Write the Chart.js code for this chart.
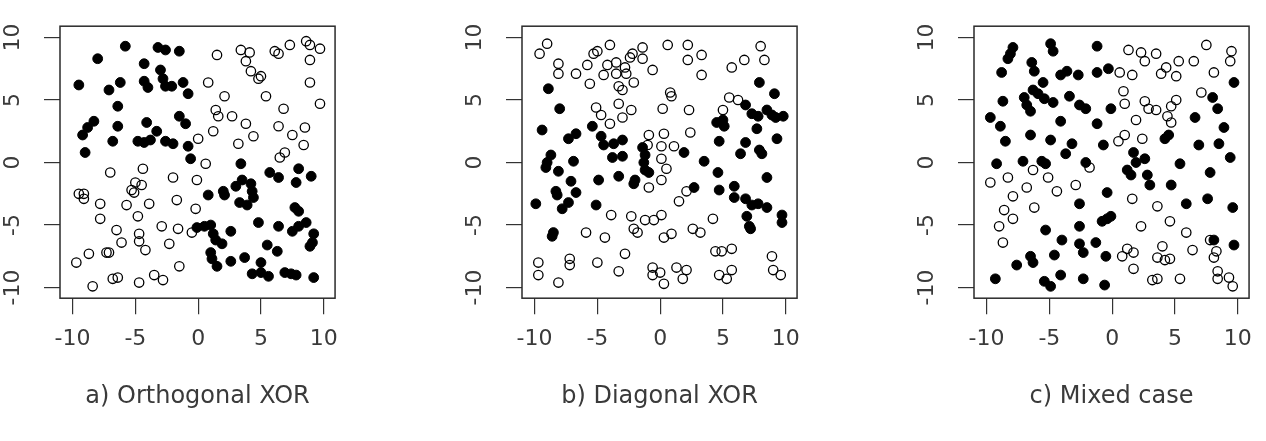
<!DOCTYPE html>
<html>
<head>
<meta charset="utf-8">
<script src="https://cdn.jsdelivr.net/npm/chart.js@4.4.1/dist/chart.umd.min.js"></script>
<style>
    html, body { margin: 0; padding: 0; background: #fff; overflow: hidden; }
    #wrap { position: relative; width: 1266px; height: 441px; }
    canvas { position: absolute; top: 0; }
</style>
</head>
<body>
<div id="wrap">
    <canvas id="chartA" width="350" height="441" style="left:0px"></canvas>
    <canvas id="chartB" width="350" height="441" style="left:462px"></canvas>
    <canvas id="chartC" width="350" height="441" style="left:914px"></canvas>
</div>
<script>
// --- DỮ LIỆU ---
const tickValues = [-10, -5, 0, 5, 10];
const panelTitles = ['a) Orthogonal XOR', 'b) Diagonal XOR', 'c) Mixed case'];

const orthoFilled = [
    [-9.5,6.2],[-8.0,8.3],[-5.8,9.3],[-7.1,5.8],[-6.2,6.4],[-6.4,4.5],[-4.3,7.9],[-4.3,6.5],[-4.0,6.0],[-3.2,9.2],
    [-2.6,9.0],[-1.5,8.9],[-3.0,7.4],[-2.8,6.7],[-2.6,6.1],[-2.1,6.1],[-1.2,6.4],[-0.8,5.5],[-8.3,3.3],[-8.8,2.8],
    [-9.2,2.2],[-6.8,1.7],[-6.4,2.9],[-4.1,3.2],[-4.8,1.7],[-4.3,1.6],[-3.8,1.8],[-3.3,2.5],[-2.6,1.7],[-2.0,1.5],
    [-1.5,3.7],[-1.0,3.1],[-0.8,1.3],[-9.0,0.8],[-0.6,0.3],[3.4,-0.1],[5.7,-0.8],[6.4,-1.2],[8.0,-0.5],[9.0,-1.1],
    [7.8,-1.6],[3.0,-1.9],[3.5,-1.4],[4.2,-1.7],[4.3,-2.3],[4.4,-2.8],[3.9,-3.4],[3.3,-3.2],[2.0,-2.3],[2.1,-2.6],
    [0.8,-2.6],[7.7,-3.6],[8.0,-3.9],[4.8,-4.8],[6.4,-5.1],[7.5,-5.5],[8.0,-5.1],[8.6,-4.8],[9.2,-5.7],[9.1,-6.4],
    [8.9,-6.7],[-0.1,-5.2],[0.5,-5.1],[1.0,-5.0],[1.2,-5.7],[1.4,-6.2],[1.9,-6.5],[1.0,-7.2],[1.1,-7.7],[1.5,-8.3],
    [2.6,-5.5],[2.6,-7.9],[3.7,-7.6],[5.5,-6.6],[6.3,-7.1],[5.0,-8.0],[4.3,-8.9],[5.0,-8.8],[5.6,-9.1],[6.9,-8.8],
    [7.4,-8.9],[7.8,-9.0],[9.2,-9.2]
];
const orthoOpen = [
    [1.5,8.6],[3.4,9.0],[4.1,8.8],[3.8,8.1],[4.2,7.3],[4.8,6.7],[5.0,6.9],[6.1,8.9],[6.4,8.7],[7.3,9.4],
    [8.6,9.7],[8.9,9.4],[9.7,9.1],[8.9,8.2],[8.9,6.4],[9.7,4.7],[0.8,6.4],[2.1,5.3],[1.4,4.2],[1.6,3.7],
    [2.7,3.7],[3.8,3.1],[5.4,5.3],[6.8,4.3],[4.4,2.1],[3.2,1.5],[1.2,2.5],[0.0,1.9],[6.4,2.9],[7.5,2.2],
    [8.5,2.8],[8.4,1.4],[6.9,0.8],[6.5,0.4],[0.6,-0.1],[-7.0,-0.8],[-4.4,-0.5],[-2.0,-1.2],[-0.1,-1.4],[-5.0,-1.6],
    [-4.5,-1.8],[-5.3,-2.2],[-5.1,-2.4],[-9.5,-2.5],[-9.1,-2.5],[-9.1,-2.9],[-7.8,-3.3],[-5.7,-3.4],[-3.9,-3.3],[-4.8,-4.3],
    [-1.7,-3.0],[-0.2,-3.7],[-7.8,-4.5],[-6.5,-5.4],[-2.9,-5.1],[-1.6,-5.3],[-0.5,-5.6],[-4.7,-5.7],[-4.7,-6.3],[-6.1,-6.4],
    [-4.2,-7.0],[-2.3,-6.5],[-8.7,-7.3],[-7.3,-7.2],[-7.1,-7.2],[-9.7,-8.0],[-1.5,-8.3],[-6.8,-9.3],[-6.4,-9.2],[-3.5,-9.0],
    [-2.8,-9.4],[-4.7,-9.6],[-8.4,-9.9]
];

const diagFilled = [
    [-8.9,5.9],[-8.0,4.3],[-9.4,2.6],[-7.3,1.9],[-6.7,2.3],[-5.4,2.9],[-4.7,2.1],[-4.5,1.4],[-3.7,1.5],[-3.0,1.8],
    [-3.8,0.4],[-3.0,0.5],[-1.4,1.2],[-1.2,0.6],[-8.7,0.6],[-9.0,0.0],[-6.9,0.1],[1.9,0.8],[4.7,1.7],[5.0,3.4],
    [4.5,3.2],[5.1,2.9],[6.8,1.6],[6.4,0.7],[7.7,2.7],[7.9,1.0],[8.1,0.7],[9.3,1.9],[7.9,6.4],[9.1,5.5],
    [6.8,4.6],[7.3,3.9],[7.8,3.7],[8.5,4.2],[8.9,3.8],[9.2,3.6],[9.8,3.7],[3.5,0.1],[-9.1,-0.4],[-8.1,-0.7],
    [-9.9,-3.3],[-8.3,-2.3],[-8.2,-2.6],[-7.1,-1.5],[-6.7,-2.4],[-7.3,-3.2],[-7.8,-3.7],[-8.6,-5.9],[-8.5,-5.6],[-5.1,-3.4],
    [-4.9,-1.4],[-3.3,-1.1],[-2.0,-1.4],[-2.1,-1.7],[-1.3,0.0],[-1.2,-0.6],[-0.9,-0.8],[4.6,-0.8],[2.7,-2.0],[4.7,-2.2],
    [5.9,-1.9],[5.9,-2.8],[6.8,-2.9],[7.3,-3.4],[6.9,-4.3],[7.2,-5.3],[7.1,-5.1],[7.8,-3.3],[8.5,-3.6],[8.5,-1.2],
    [9.7,-4.2],[9.7,-4.8]
];
const diagOpen = [
    [-9.6,8.7],[-9.0,9.5],[-8.1,7.9],[-8.1,7.1],[-6.7,7.1],[-5.8,7.8],[-5.3,8.7],[-5.0,8.9],[-5.6,6.3],[-4.5,7.0],
    [-4.2,7.8],[-4.0,9.4],[-3.5,8.0],[-3.5,7.1],[-2.8,7.6],[-2.7,7.1],[-3.3,6.1],[-3.0,5.8],[-2.1,6.4],[-2.4,8.4],
    [-2.2,8.7],[-1.4,9.2],[-1.4,8.3],[-0.6,7.4],[0.6,9.4],[2.2,9.4],[2.2,8.2],[3.3,8.6],[3.3,7.0],[5.7,7.6],
    [6.7,8.2],[8.0,9.3],[8.3,8.2],[0.8,5.6],[0.9,5.3],[0.2,4.3],[2.3,4.2],[2.4,2.4],[-5.1,4.4],[-4.7,3.8],
    [-4.0,3.1],[-3.3,4.7],[-3.0,3.6],[-2.3,4.2],[-0.9,2.2],[0.3,2.3],[0.1,1.3],[1.1,1.3],[-1.0,1.4],[0.1,0.3],
    [5.0,4.2],[5.5,5.2],[6.2,5.0],[0.5,-0.5],[0.1,-1.4],[-0.9,-2.0],[2.1,-2.3],[1.5,-3.1],[4.2,-4.5],[-3.9,-4.2],
    [-2.3,-4.3],[-2.1,-5.3],[-1.8,-5.6],[-1.2,-4.6],[-0.5,-4.6],[0.1,-4.2],[0.3,-6.0],[0.9,-5.7],[2.6,-5.3],[3.2,-5.6],
    [-5.9,-5.6],[-4.4,-6.0],[-2.8,-7.3],[-9.7,-8.0],[-9.7,-9.0],[-7.2,-7.7],[-7.2,-8.2],[-5.0,-8.0],[-3.3,-8.7],[-8.1,-9.6],
    [-0.6,-8.4],[-0.6,-9.0],[0.0,-8.8],[0.3,-9.7],[1.3,-8.4],[2.1,-8.6],[1.8,-9.3],[4.4,-7.1],[4.9,-7.1],[5.7,-6.9],
    [4.7,-9.0],[5.3,-9.3],[5.7,-8.6],[8.9,-7.5],[9.0,-8.6],[9.6,-9.0]
];

const mixedFilled = [
    [-7.9,9.2],[-8.1,8.7],[-8.3,8.3],[-8.8,7.2],[-4.9,9.5],[-4.7,8.9],[-1.2,9.3],[-6.4,8.0],[-6.2,7.3],[-5.5,6.4],
    [-6.3,5.8],[-7.0,5.2],[-6.8,4.6],[-6.5,4.1],[-5.9,5.5],[-5.4,5.1],[-4.7,4.8],[-4.1,7.0],[-3.6,7.3],[-2.7,7.0],
    [-3.4,5.3],[-2.6,4.6],[-2.1,4.3],[-1.2,7.2],[-0.3,7.5],[-8.7,4.9],[-9.7,3.6],[-8.9,2.9],[-8.5,1.7],[-6.5,2.2],
    [-4.9,1.8],[-4.1,3.3],[-3.2,1.5],[-3.7,0.7],[-1.2,3.1],[-0.7,1.4],[-0.1,4.3],[1.7,0.8],[4.2,1.9],[4.5,2.2],
    [6.6,3.6],[8.0,5.2],[8.4,4.3],[9.7,6.4],[8.9,2.8],[6.9,1.4],[8.5,1.5],[9.4,0.4],[-9.2,-0.1],[-7.1,0.1],
    [-5.6,0.1],[-5.3,-0.1],[-2.1,0.0],[1.2,-0.6],[1.5,-1.0],[1.9,0.0],[2.6,0.3],[2.8,-1.0],[3.0,-1.8],[4.7,-1.8],
    [5.4,-0.1],[7.8,-0.8],[-0.4,-2.4],[-2.6,-3.3],[5.9,-3.3],[7.6,-2.9],[9.6,-3.6],[-0.8,-4.7],[-0.4,-4.5],[-0.1,-4.3],
    [-2.6,-5.1],[-5.3,-5.4],[-4.0,-6.2],[-1.3,-6.4],[-2.6,-6.5],[-2.3,-7.2],[-0.5,-7.5],[-4.6,-7.4],[-6.5,-7.5],[-6.3,-8.0],
    [-7.6,-8.2],[-9.3,-9.3],[-5.4,-9.5],[-4.9,-9.9],[-4.1,-9.0],[-2.3,-9.3],[-0.6,-9.8],[8.1,-6.2],[9.7,-6.6]
];
const mixedOpen = [
    [1.3,9.0],[2.3,8.8],[2.6,8.1],[3.5,8.7],[5.3,8.1],[6.5,8.1],[7.5,9.4],[4.3,7.6],[3.9,7.1],[5.1,6.9],
    [9.4,8.1],[9.5,8.9],[8.1,7.2],[0.6,7.2],[1.6,7.0],[0.9,5.7],[1.0,4.7],[2.6,4.9],[2.9,4.3],[3.5,4.2],
    [5.1,5.0],[4.7,4.5],[4.4,3.7],[4.7,3.2],[1.9,3.4],[7.1,5.6],[0.5,1.7],[1.0,2.2],[2.4,1.9],[-1.8,-0.4],
    [-6.3,-0.6],[-5.1,-1.2],[-8.3,-1.2],[-9.7,-1.6],[-6.8,-2.0],[-7.9,-2.7],[-2.9,-1.8],[-4.4,-2.3],[-6.2,-3.6],[-8.6,-3.8],
    [-7.9,-4.5],[-9.0,-5.1],[-8.7,-6.4],[1.6,-2.9],[3.6,-3.5],[4.6,-4.7],[2.3,-5.1],[5.9,-5.6],[6.4,-7.0],[7.8,-6.2],
    [8.3,-7.1],[8.1,-7.6],[0.8,-7.5],[1.2,-6.9],[1.7,-7.2],[1.7,-8.5],[4.0,-6.7],[3.6,-7.6],[4.2,-7.8],[4.6,-7.7],
    [3.2,-9.4],[3.6,-9.3],[5.4,-9.3],[8.4,-8.7],[8.4,-9.3],[9.3,-9.2],[9.6,-9.9]
];

// --- 1. KHUNG VIỀN QUANH VÙNG VẼ ---
const boxPlugin = {
    id: 'plotBox',
    afterDatasetsDraw(chart) {
        const { ctx, chartArea: a } = chart;
        ctx.save();
        ctx.strokeStyle = '#2a2a2a';
        ctx.lineWidth = 1.5;
        ctx.strokeRect(a.left, a.top, a.right - a.left, a.bottom - a.top);
        ctx.restore();
    }
};

const labelFont = { family: 'DejaVu Sans', size: 22, weight: 'normal' };
const textColor = '#3a3a3a';

// --- 2. VẼ MỘT Ô BIỂU ĐỒ ---
function renderPanel(canvasId, filled, open, title) {
    const ctx = document.getElementById(canvasId).getContext('2d');
    const toPts = arr => arr.map(p => ({ x: p[0], y: p[1] }));
    const setTicks = s => { s.ticks = tickValues.map(v => ({ value: v })); };

    return new Chart(ctx, {
        type: 'scatter',
        data: {
            datasets: [
                {
                    data: toPts(open),
                    pointRadius: 4.7,
                    borderWidth: 1.3,
                    borderColor: '#000',
                    backgroundColor: 'rgba(0,0,0,0)'
                },
                {
                    data: toPts(filled),
                    pointRadius: 4.9,
                    borderWidth: 1,
                    borderColor: '#000',
                    backgroundColor: '#000'
                }
            ]
        },
        options: {
            responsive: false,
            animation: false,
            events: [],
            layout: { padding: { top: 13, right: 6, left: 0, bottom: 0 } },
            scales: {
                x: {
                    type: 'linear',
                    min: -11, max: 10.9,
                    afterBuildTicks: setTicks,
                    afterFit: s => { s.height = 60; },
                    border: { display: false },
                    grid: { drawOnChartArea: false, drawTicks: true, tickLength: 16, color: '#333', lineWidth: 1.2 },
                    ticks: { font: labelFont, color: textColor, padding: 12, maxRotation: 0, autoSkip: false }
                },
                y: {
                    type: 'linear',
                    min: -10.85, max: 10.9,
                    afterBuildTicks: setTicks,
                    afterFit: s => { s.width = 60; },
                    border: { display: false },
                    grid: { drawOnChartArea: false, drawTicks: true, tickLength: 16, color: '#333', lineWidth: 1.2 },
                    ticks: { font: labelFont, color: textColor, padding: 13, minRotation: 90, maxRotation: 90, crossAlign: 'center', autoSkip: false }
                }
            },
            plugins: {
                legend: { display: false },
                tooltip: { enabled: false },
                title: {
                    display: true,
                    text: title,
                    position: 'bottom',
                    fullSize: false,
                    color: textColor,
                    font: { family: 'DejaVu Sans', size: 24, weight: 'normal', lineHeight: 1.2 },
                    padding: { top: 24, bottom: 30 }
                }
            }
        },
        plugins: [boxPlugin]
    });
}

renderPanel('chartA', orthoFilled, orthoOpen, panelTitles[0]);
renderPanel('chartB', diagFilled, diagOpen, panelTitles[1]);
renderPanel('chartC', mixedFilled, mixedOpen, panelTitles[2]);
</script>
</body>
</html>
